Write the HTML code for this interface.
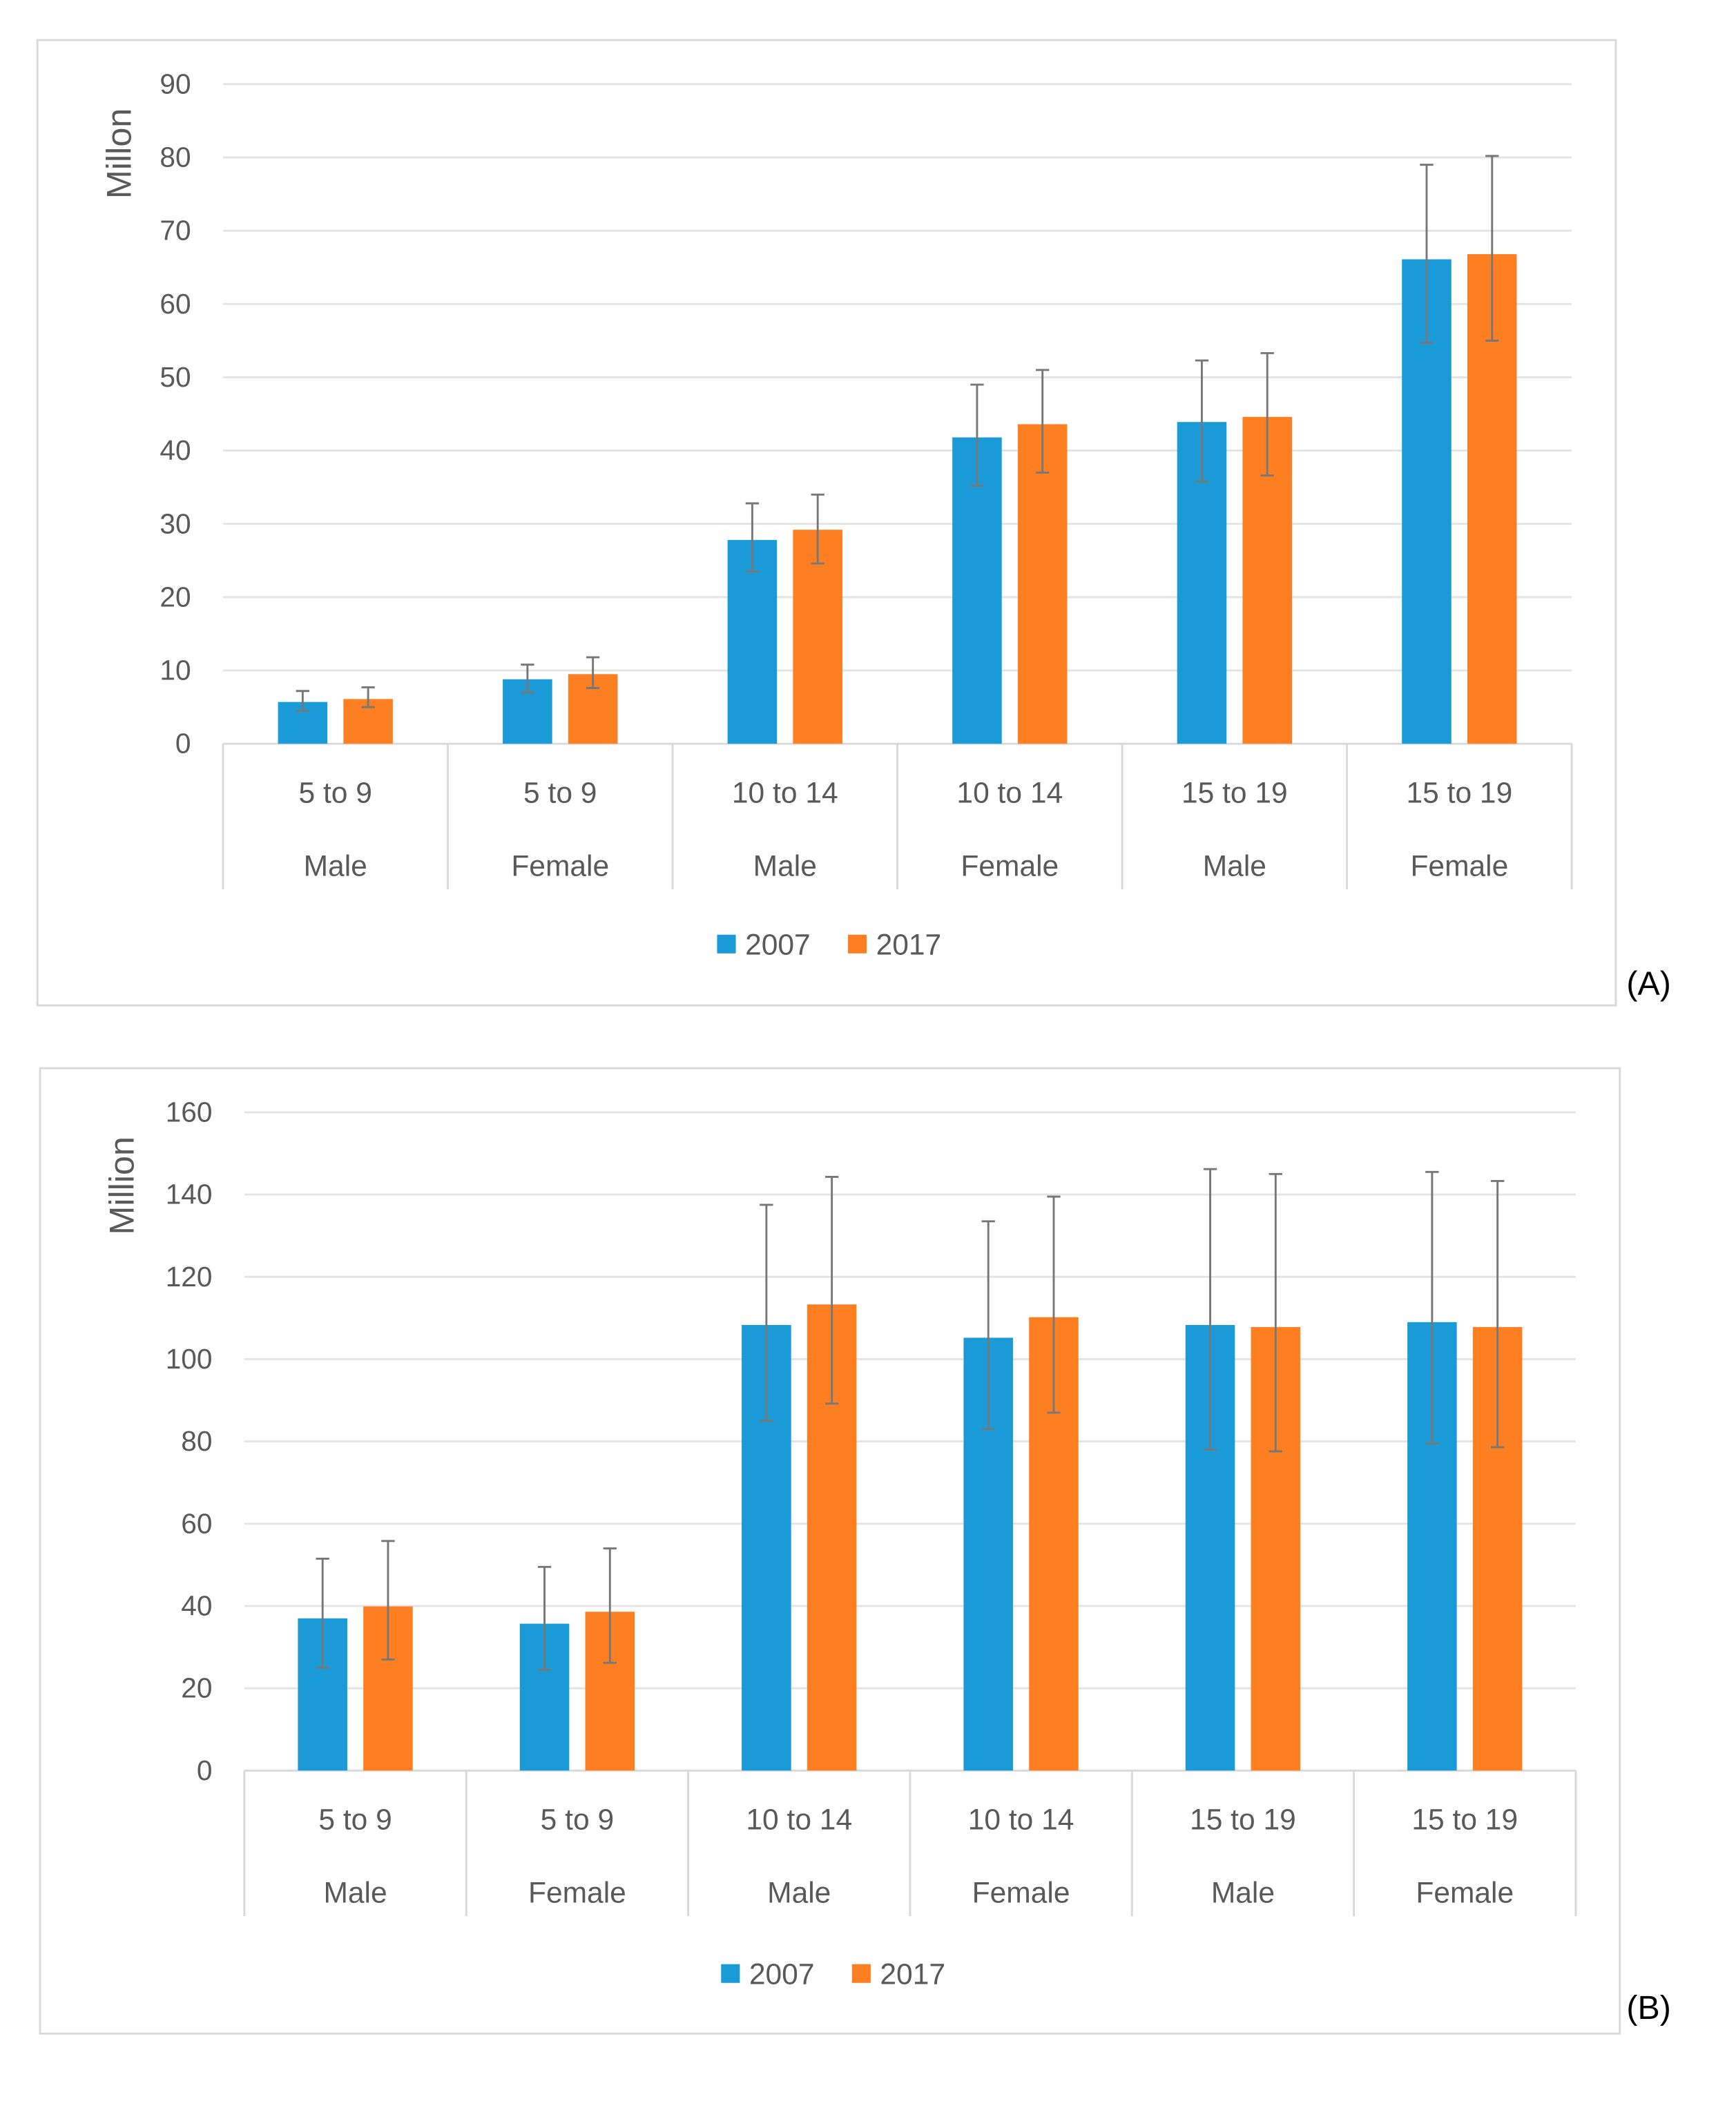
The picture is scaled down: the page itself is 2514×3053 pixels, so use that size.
<!DOCTYPE html>
<html><head><meta charset="utf-8"><style>
html,body{margin:0;padding:0;background:#fff}
svg{display:block}
text{font-family:"Liberation Sans",sans-serif;fill:#595959}
</style></head><body>
<svg id="svg" width="2514" height="3053" viewBox="0 0 1300 1578.7" xmlns="http://www.w3.org/2000/svg"></svg>
<script>
const categories = ["5 to 9","5 to 9","10 to 14","10 to 14","15 to 19","15 to 19"];
const sexes = ["Male","Female","Male","Female","Male","Female"];
const seriesNames = ["2007","2017"];
const a2007 = [5.7, 8.8, 27.8, 41.8, 43.9, 66.1];
const a2007Lo = [4.5, 7.0, 23.5, 35.2, 35.8, 54.7];
const a2007Hi = [7.2, 10.8, 32.8, 49.0, 52.3, 79.0];
const a2017 = [6.1, 9.5, 29.2, 43.6, 44.6, 66.8];
const a2017Lo = [5.0, 7.6, 24.6, 37.0, 36.6, 55.0];
const a2017Hi = [7.7, 11.8, 34.0, 51.0, 53.3, 80.2];
const aTicks = [0,10,20,30,40,50,60,70,80,90];
const b2007 = [37.0, 35.7, 108.3, 105.2, 108.3, 109.0];
const b2007Lo = [25.0, 24.5, 85.0, 83.0, 78.0, 79.5];
const b2007Hi = [51.5, 49.5, 137.5, 133.5, 146.2, 145.5];
const b2017 = [39.9, 38.6, 113.3, 110.2, 107.8, 107.8];
const b2017Lo = [27.0, 26.2, 89.2, 87.0, 77.6, 78.6];
const b2017Hi = [55.8, 54.0, 144.3, 139.5, 145.0, 143.3];
const bTicks = [0,20,40,60,80,100,120,140,160];

const NS="http://www.w3.org/2000/svg";
const svg=document.getElementById('svg');
function mk(tag,attrs,parent,txt){const e=document.createElementNS(NS,tag);for(const k in attrs)e.setAttribute(k,attrs[k]);if(txt!==undefined)e.textContent=txt;(parent||svg).appendChild(e);return e;}

function drawChart(cfg){
  const g=mk('g',{});
  
  
  const box=mk('rect',{x:cfg.bx,y:cfg.by,width:cfg.bw,height:cfg.bh,fill:'#fff',stroke:'#d9d9d9','stroke-width':1.5},g);
  
  
  const maxV=cfg.ticks[cfg.ticks.length-1];
  const y=v=>cfg.y0-(v/maxV)*(cfg.y0-cfg.yTop);
  const gw=(cfg.x1-cfg.x0)/categories.length;
  const cx=i=>cfg.x0+gw*(i+0.5);
  cfg.ticks.forEach(t=>{
    if(t>0){const l=mk('line',{x1:cfg.x0,x2:cfg.x1,y1:y(t),y2:y(t),stroke:'#e3e3e3','stroke-width':1.5},g);
    
    }
    const tl=mk('text',{x:cfg.x0-24,y:y(t)+7,'text-anchor':'end','font-size':21},g,String(t));
    
    
  });
  const ax=mk('line',{x1:cfg.x0,x2:cfg.x1,y1:cfg.y0,y2:cfg.y0,stroke:'#d9d9d9','stroke-width':1.5},g);
  
  
  for(let i=0;i<=categories.length;i++){
    const sx=cfg.x0+gw*i;
    const s=mk('line',{x1:sx,x2:sx,y1:cfg.y0,y2:cfg.y0+109,stroke:'#d9d9d9','stroke-width':1.5},g);
    
    
  }
  const series=[[cfg.s1,cfg.s1Lo,cfg.s1Hi,'#1a9bd7',-43],[cfg.s2,cfg.s2Lo,cfg.s2Hi,'#fd7f22',6]];
  categories.forEach((c,i)=>{
    series.forEach((s,k)=>{
      const bx=cx(i)+s[4];
      const r=mk('rect',{x:bx,y:y(s[0][i]),width:37,height:cfg.y0-y(s[0][i]),fill:s[3]},g);
      
      
      const ex=bx+18.5;
      const e=mk('path',{d:`M${ex},${y(s[1][i])}V${y(s[2][i])}M${ex-5},${y(s[1][i])}H${ex+5}M${ex-5},${y(s[2][i])}H${ex+5}`,stroke:'#777','stroke-width':1.5,fill:'none'},g);
      
      
    });
    const t1=mk('text',{x:cx(i),y:cfg.y0+44,'text-anchor':'middle','font-size':22},g,c);
    
    
    const t2=mk('text',{x:cx(i),y:cfg.y0+99,'text-anchor':'middle','font-size':22},g,sexes[i]);
    
    
  });
  const yt=mk('text',{x:0,y:0,transform:`translate(${cfg.bx+70},${cfg.titleY}) rotate(-90)`,'text-anchor':'middle','font-size':26},g,cfg.title);
  
  
  const ly=cfg.legY;
  [[cfg.legX,'#1a9bd7',seriesNames[0]],[cfg.legX+98,'#fd7f22',seriesNames[1]]].forEach(l=>{
    const sw=mk('rect',{x:l[0],y:ly-7,width:14,height:14,fill:l[1]},g);
    
    
    const lt=mk('text',{x:l[0]+21,y:ly+8,'font-size':22},g,l[2]);
    
    
  });
  const pl=mk('text',{x:cfg.panelX,y:cfg.panelY+9,'font-size':25,style:'fill:#000'},g,cfg.panel);
  
  
}
drawChart({name:'chart-a',bx:28,by:30,bw:1182,bh:723,x0:167,x1:1177,y0:557,yTop:63,ticks:aTicks,
  s1:a2007,s1Lo:a2007Lo,s1Hi:a2007Hi,s2:a2017,s2Lo:a2017Lo,s2Hi:a2017Hi,title:'Millon',titleY:115,
  legX:537,legY:707,panel:'(A)',panelX:1218,panelY:736});
drawChart({name:'chart-b',bx:30,by:800,bw:1183,bh:723,x0:183,x1:1180,y0:1326,yTop:833,ticks:bTicks,
  s1:b2007,s1Lo:b2007Lo,s1Hi:b2007Hi,s2:b2017,s2Lo:b2017Lo,s2Hi:b2017Hi,title:'Million',titleY:888,
  legX:540,legY:1478,panel:'(B)',panelX:1218,panelY:1503});
</script>
</body></html>
